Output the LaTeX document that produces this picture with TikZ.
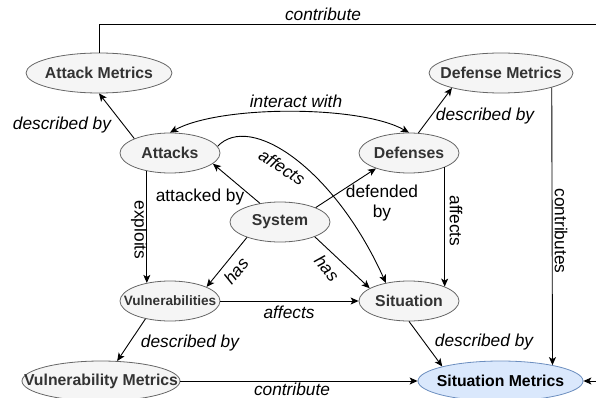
\documentclass[tikz,border=0pt]{standalone}
\usepackage{fontspec}
\setmainfont{Liberation Sans}
\usetikzlibrary{shapes.geometric,arrows.meta}
\definecolor{nodefill}{HTML}{F5F5F5}
\definecolor{nodeline}{HTML}{666666}
\definecolor{nodetext}{HTML}{333333}
\definecolor{smfill}{HTML}{DAE8FC}
\definecolor{smline}{HTML}{6C8EBF}
\begin{document}
\begin{tikzpicture}[x=1pt,y=-1pt,
  ent/.style={ellipse, draw=nodeline, fill=nodefill, line width=0.8pt, inner sep=0pt, minimum height=40pt},
  nlab/.style={inner sep=0pt, text=nodetext, font=\fontsize{15.8}{18}\selectfont\bfseries},
  arr/.style={-{Stealth[length=8pt,width=7pt,inset=2pt]}, line width=0.9pt},
  barr/.style={{Stealth[length=8pt,width=7pt,inset=2pt]}-{Stealth[length=8pt,width=7pt,inset=2pt]}, line width=0.9pt},
  lab/.style={inner sep=0pt, font=\fontsize{17.3}{20}\selectfont},
  ilab/.style={inner sep=0pt, font=\fontsize{17.3}{20}\selectfont\itshape},
]
\useasboundingbox (0,0) rectangle (596,398);

% entities
\node[ent, minimum width=146pt, label={[nlab]center:Attack Metrics}] (am) at (99,73) {};
\node[ent, minimum width=144pt, label={[nlab]center:Defense Metrics}] (dm) at (501,73) {};
\node[ent, minimum width=100pt, label={[nlab]center:Attacks}] (att) at (170,153) {};
\node[ent, minimum width=100pt, label={[nlab]center:Defenses}] (def) at (409,153) {};
\node[ent, minimum width=100pt, label={[nlab]center:System}] (sys) at (280,222) {};
\node[ent, minimum width=100pt, label={[nlab, font=\fontsize{13.6}{16}\selectfont\bfseries]center:Vulnerabilities}] (vul) at (170,301) {};
\node[ent, minimum width=100pt, label={[nlab]center:Situation}] (sit) at (409,301) {};
\node[ent, minimum width=158pt, label={[nlab]center:Vulnerability Metrics}] (vm) at (101,381) {};
\node[ent, draw=smline, fill=smfill, minimum width=165pt, label={[nlab, text=black]center:Situation Metrics}] (sm) at (500.5,381) {};

\coordinate (tr) at (597,24);

% connectors
\draw[arr] (att.158) -- (am.south);
\draw[arr] (def.65) -- (dm.197);
\draw[barr] (att.north) .. controls (220,105) and (360,105) .. (def.north);
\draw[arr] (att.8) .. controls (250,112) and (334,168) .. (sit.142);
\draw[arr] (sys.137) -- (att.-14);
\draw[arr] (sys.22) -- (def.205);
\draw[arr] (att.218) -- (vul.142);
\draw[arr] (def.338) -- (sit.22);
\draw[arr] (sys.205) -- (vul.21);
\draw[arr] (sys.337) -- (sit.162);
\draw[arr] (vul.east) -- (sit.west);
\draw[arr] (vul.216) -- (vm.51);
\draw[arr] (sit.south) -- (sm.166);
\draw[arr] (vm.east) -- (sm.west);
\draw[arr] (dm.-16) -- (sm.17);
\draw[arr] (am.north) |- (tr) |- (sm.east);

% labels
\node[ilab] (l1) at (323,14) {contribute};
\node[ilab] (l2) at (62,125) {described by};
\node[ilab] (l3) at (485,116) {described by};
\node[ilab] (l4) at (296,101) {interact with};
\node[ilab, rotate=-33] (l5) at (282,167) {affects};
\node[lab] (l6) at (200,197) {attacked by};
\node[lab, align=center] (l7) at (382,203) {defended\\by};
\node[lab, rotate=-90] (l8) at (139,230) {exploits};
\node[lab, rotate=-90] (l9) at (456,221) {affects};
\node[lab, rotate=-90] (l10) at (561,231) {contributes};
\node[ilab, rotate=50] (l11) at (236,271) {has};
\node[ilab, rotate=-50] (l12) at (327,268) {has};
\node[ilab] (l13) at (289,312) {affects};
\node[ilab] (l14) at (190,343) {described by};
\node[ilab] (l15) at (484,342) {described by};
\node[ilab] (l16) at (292,389) {contribute};
\end{tikzpicture}
\end{document}
